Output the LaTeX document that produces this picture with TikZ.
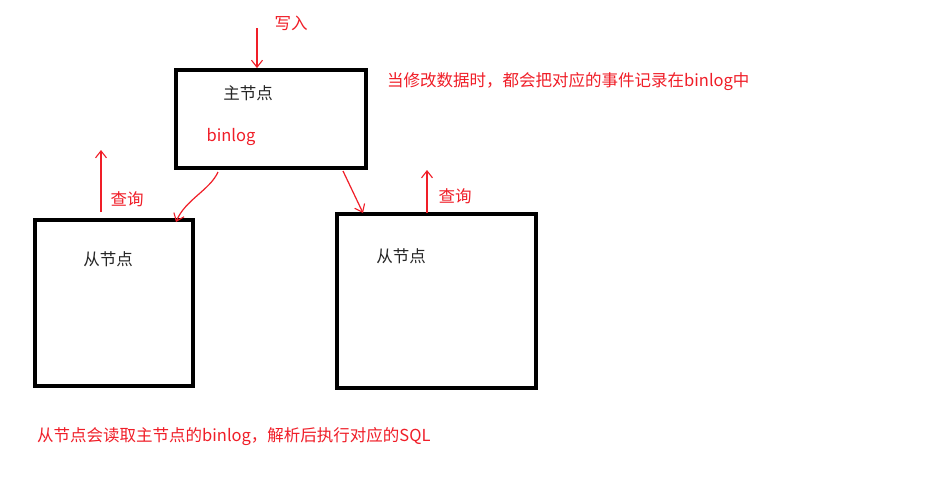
\documentclass[tikz,border=0pt]{standalone}
\usepackage{fontspec}
\setmainfont{Noto Sans CJK SC}
\usetikzlibrary{arrows.meta}
\definecolor{rd}{RGB}{240,30,40}
\begin{document}
\begin{tikzpicture}[x=1pt,y=-1pt,
  box/.style={draw=black,line width=3.8pt,inner sep=0pt},
  redtxt/.style={text=rd,font=\fontsize{16.5}{19}\selectfont,inner sep=0pt},
  blktxt/.style={text=black!85,font=\fontsize{16.5}{19}\selectfont,inner sep=0pt},
  arr/.style={draw=rd,line width=1.2pt,-{Straight Barb[length=7pt,width=11pt,line width=1.1pt]}}]
\useasboundingbox[fill=white] (0,0) rectangle (949,479);
\node[box,minimum width=190pt,minimum height=98pt] (m) at (271,119) {};
\node[box,minimum width=158pt,minimum height=166pt] (s1) at (114,303) {};
\node[box,minimum width=199pt,minimum height=174pt] (s2) at (436.5,301) {};
\node[blktxt] (mt) at (248,93) {主节点};
\node[redtxt] (bl) at (231,137) {binlog};
\node[blktxt] (s1t) at (108,259) {从节点};
\node[blktxt] (s2t) at (401,256) {从节点};
\node[redtxt] (wr) at (291,23) {写入};
\node[redtxt,anchor=west] (note) at (387,82) {当修改数据时，都会把对应的事件记录在binlog中};
\node[redtxt,anchor=west] (bottom) at (37,437) {从节点会读取主节点的binlog，解析后执行对应的SQL};
\node[redtxt] (q1) at (127,199) {查询};
\node[redtxt] (q2) at (455,196) {查询};
\coordinate (w0) at (257,28);
\coordinate (q1a) at (101,212);
\coordinate (q1b) at (101,150);
\coordinate (q2a) at (427,213);
\coordinate (q2b) at (427,170);
\coordinate (a1) at (218,172);
\coordinate (a2) at (343,171);
\draw[arr] (w0) -- (w0 |- m.north);
\draw[arr] (q1a) -- (q1b);
\draw[arr] (q2a) -- (q2b);
\draw[arr] (a1) .. controls (210,190) and (185,200) .. (176,222);
\draw[arr] (a2) -- (363,213);
\end{tikzpicture}
\end{document}
